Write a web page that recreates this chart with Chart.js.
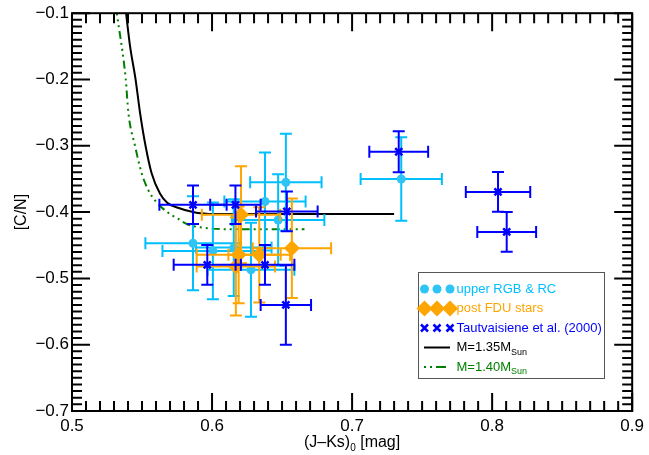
<!DOCTYPE html>
<html>
<head>
<meta charset="utf-8">
<script src="https://cdn.jsdelivr.net/npm/chart.js@4.4.0/dist/chart.umd.min.js"></script>
<style>
  html, body { margin: 0; padding: 0; background: #fff; }
  canvas { display: block; }
</style>
</head>
<body>
<canvas id="cn-chart" width="649" height="455"></canvas>
<script>
// Datos leidos del grafico
// upper RGB & RC
const rgbX = [0.7351, 0.6527, 0.6378, 0.6472, 0.5864, 0.6006, 0.6155, 0.6278];
const rgbY = [-0.350, -0.355, -0.384, -0.412, -0.447, -0.4585, -0.4535, -0.487];
const rgbXerr = [0.029, 0.0255, 0.029, 0.033, 0.034, 0.036, 0.027, 0.031];
const rgbYerr = [0.063, 0.073, 0.074, 0.069, 0.071, 0.073, 0.073, 0.071];

// post FDU stars
const fduX = [0.6207, 0.6190, 0.6337, 0.6570, 0.6170];
const fduY = [-0.404, -0.4645, -0.4645, -0.4544, -0.482];
const fduXerr = [0.028, 0.030, 0.022, 0.028, 0.028];
const fduYerr = [0.073, 0.073, 0.072, 0.075, 0.074];

// Tautvaisiene et al. (2000)
const tautX = [0.5864, 0.6167, 0.6534, 0.5966, 0.6378, 0.6527, 0.7333, 0.8042, 0.8104];
const tautY = [-0.389, -0.389, -0.399, -0.4796, -0.4796, -0.540, -0.309, -0.3695, -0.4299];
const tautXerr = [0.024, 0.018, 0.022, 0.024, 0.021, 0.018, 0.021, 0.023, 0.021];
const tautYerr = [0.029, 0.029, 0.030, 0.030, 0.030, 0.060, 0.031, 0.030, 0.030];

// modelos
const m135X = [0.5386, 0.5414, 0.5454, 0.5485, 0.5525, 0.5568, 0.5628, 0.5680, 0.5773, 0.5850, 0.5915, 0.6050, 0.6300, 0.6800, 0.7300];
const m135Y = [-0.100, -0.149, -0.200, -0.249, -0.300, -0.341, -0.372, -0.386, -0.3945, -0.399, -0.4017, -0.403, -0.403, -0.403, -0.403];
const m140X = [0.5320, 0.5384, 0.5402, 0.5450, 0.5497, 0.5544, 0.5595, 0.5680, 0.5757, 0.5820, 0.5915, 0.6200, 0.6660];
const m140Y = [-0.100, -0.200, -0.249, -0.300, -0.341, -0.3665, -0.3830, -0.400, -0.410, -0.418, -0.423, -0.426, -0.426];

// ejes
const xMin = 0.5, xMax = 0.9, yMin = -0.7, yMax = -0.1;
const majorStep = 0.1, minorStep = 0.01;

const FONT = "'Liberation Sans', Arial, Helvetica, sans-serif";
const CYAN = "#00BFFF";
const ORANGE = "#FFA500";
const BLUE = "#0000FF";
const GREEN = "#008000";

function toPoints(xs, ys) {
  return xs.map((x, i) => ({ x: x, y: ys[i] }));
}

// Barras de error (se dibujan antes de los marcadores de cada serie)
const errorBars = {
  id: "errorBars",
  beforeDatasetDraw(chart, args) {
    const ds = chart.data.datasets[args.index];
    if (!ds.errX) return;
    const ctx = chart.ctx;
    const xs = chart.scales.x, ys = chart.scales.y;
    const cap = 6;
    ctx.save();
    ctx.strokeStyle = ds.barColor;
    ctx.lineWidth = 2;
    ds.data.forEach((p, i) => {
      const px = xs.getPixelForValue(p.x);
      const py = ys.getPixelForValue(p.y);
      const x1 = xs.getPixelForValue(p.x - ds.errX[i]);
      const x2 = xs.getPixelForValue(p.x + ds.errX[i]);
      const y1 = ys.getPixelForValue(p.y + ds.errY[i]);
      const y2 = ys.getPixelForValue(p.y - ds.errY[i]);
      ctx.beginPath();
      ctx.moveTo(x1, py); ctx.lineTo(x2, py);
      ctx.moveTo(x1, py - cap); ctx.lineTo(x1, py + cap);
      ctx.moveTo(x2, py - cap); ctx.lineTo(x2, py + cap);
      ctx.moveTo(px, y1); ctx.lineTo(px, y2);
      ctx.moveTo(px - cap, y1); ctx.lineTo(px + cap, y1);
      ctx.moveTo(px - cap, y2); ctx.lineTo(px + cap, y2);
      ctx.stroke();
    });
    ctx.restore();
  }
};

// Marco con ticks hacia dentro en los cuatro lados
const frameTicks = {
  id: "frameTicks",
  afterDatasetsDraw(chart) {
    const ctx = chart.ctx;
    const a = chart.chartArea;
    const xs = chart.scales.x, ys = chart.scales.y;
    const major = 18, minor = 10;
    ctx.save();
    ctx.strokeStyle = "#000";
    ctx.lineWidth = 2;
    ctx.beginPath();
    const nx = Math.round((xMax - xMin) / minorStep);
    for (let i = 0; i <= nx; i++) {
      const px = xs.getPixelForValue(xMin + i * minorStep);
      const len = i % 10 === 0 ? major : minor;
      ctx.moveTo(px, a.bottom); ctx.lineTo(px, a.bottom - len);
      ctx.moveTo(px, a.top); ctx.lineTo(px, a.top + len);
    }
    const ny = Math.round((yMax - yMin) / minorStep);
    for (let i = 0; i <= ny; i++) {
      const py = ys.getPixelForValue(yMin + i * minorStep);
      const len = i % 10 === 0 ? major : minor;
      ctx.moveTo(a.left, py); ctx.lineTo(a.left + len, py);
      ctx.moveTo(a.right, py); ctx.lineTo(a.right - len, py);
    }
    ctx.stroke();
    ctx.strokeRect(a.left, a.top, a.right - a.left, a.bottom - a.top);
    ctx.restore();
  }
};

// Texto con subindice
function subText(ctx, x, y, main, sub, size, subSize, drop) {
  ctx.font = size + "px " + FONT;
  ctx.fillText(main, x, y);
  const w = ctx.measureText(main).width;
  ctx.font = subSize + "px " + FONT;
  ctx.fillText(sub, x + w, y + drop);
  return w + ctx.measureText(sub).width;
}

// Titulos de ejes y leyenda
const annotations = {
  id: "annotations",
  afterDraw(chart) {
    const ctx = chart.ctx;
    const a = chart.chartArea;
    ctx.save();
    ctx.fillStyle = "#000";
    ctx.textBaseline = "alphabetic";

    // titulo eje x
    const tSize = 16, sSize = 10;
    ctx.font = tSize + "px " + FONT;
    const t1 = "(J\u2013Ks)", t2 = " [mag]";
    const w1 = ctx.measureText(t1).width, w2 = ctx.measureText(t2).width;
    ctx.font = sSize + "px " + FONT;
    const ws = ctx.measureText("0").width;
    const x0 = (a.left + a.right) / 2 - (w1 + ws + w2) / 2;
    const base = 447;
    ctx.font = tSize + "px " + FONT;
    ctx.fillText(t1, x0, base);
    ctx.font = sSize + "px " + FONT;
    ctx.fillText("0", x0 + w1, base + 4);
    ctx.font = tSize + "px " + FONT;
    ctx.fillText(t2, x0 + w1 + ws, base);

    // titulo eje y
    ctx.save();
    ctx.translate(26, (a.top + a.bottom) / 2);
    ctx.rotate(-Math.PI / 2);
    ctx.textAlign = "center";
    ctx.font = tSize + "px " + FONT;
    ctx.fillText("[C/N]", 0, 0);
    ctx.restore();

    // leyenda
    const bx = 418, by = 272, bw = 186, bh = 106;
    ctx.fillStyle = "#fff";
    ctx.fillRect(bx, by, bw, bh);
    ctx.strokeStyle = "#555";
    ctx.lineWidth = 1;
    ctx.strokeRect(bx + 0.5, by + 0.5, bw, bh);

    const symX = [424.5, 437, 450];
    const rows = [289, 308.5, 328, 347.5, 367];
    const tx = 456.5;
    ctx.textBaseline = "middle";

    // upper RGB & RC
    ctx.fillStyle = "#2EC4F5";
    symX.forEach(sx => { ctx.beginPath(); ctx.arc(sx, rows[0], 4.5, 0, 2 * Math.PI); ctx.fill(); });
    ctx.fillStyle = CYAN;
    ctx.font = "13px " + FONT;
    ctx.fillText("upper RGB & RC", tx, rows[0]);

    // post FDU
    ctx.fillStyle = ORANGE;
    symX.forEach(sx => {
      ctx.beginPath();
      ctx.moveTo(sx - 8, rows[1]); ctx.lineTo(sx, rows[1] - 8);
      ctx.lineTo(sx + 8, rows[1]); ctx.lineTo(sx, rows[1] + 8);
      ctx.closePath(); ctx.fill();
    });
    ctx.fillText("post FDU stars", tx, rows[1]);

    // Tautvaisiene
    ctx.strokeStyle = BLUE;
    ctx.lineWidth = 2.5;
    symX.forEach(sx => {
      ctx.beginPath();
      ctx.moveTo(sx - 3.5, rows[2] - 3.5); ctx.lineTo(sx + 3.5, rows[2] + 3.5);
      ctx.moveTo(sx - 3.5, rows[2] + 3.5); ctx.lineTo(sx + 3.5, rows[2] - 3.5);
      ctx.stroke();
    });
    ctx.fillStyle = BLUE;
    ctx.fillText("Tautvaisiene et al. (2000)", tx, rows[2]);

    // M=1.35
    ctx.strokeStyle = "#000";
    ctx.lineWidth = 2;
    ctx.beginPath(); ctx.moveTo(424, rows[3]); ctx.lineTo(450, rows[3]); ctx.stroke();
    ctx.fillStyle = "#000";
    subText(ctx, tx, rows[3], "M=1.35M", "Sun", 13, 9, 5);

    // M=1.40
    ctx.strokeStyle = GREEN;
    ctx.setLineDash([2, 4, 2, 4, 10, 4]);
    ctx.beginPath(); ctx.moveTo(424, rows[4]); ctx.lineTo(450, rows[4]); ctx.stroke();
    ctx.setLineDash([]);
    ctx.fillStyle = GREEN;
    subText(ctx, tx, rows[4], "M=1.40M", "Sun", 13, 9, 5);

    ctx.restore();
  }
};

function initChart() {
  const ctx = document.getElementById("cn-chart").getContext("2d");
  new Chart(ctx, {
    type: "scatter",
    data: {
      datasets: [
        {
          label: "Tautvaisiene et al. (2000)",
          data: toPoints(tautX, tautY),
          errX: tautXerr,
          errY: tautYerr,
          barColor: BLUE,
          pointStyle: "crossRot",
          pointRadius: 5,
          borderColor: BLUE,
          borderWidth: 2.5,
          backgroundColor: BLUE,
        },
        {
          label: "post FDU stars",
          data: toPoints(fduX, fduY),
          errX: fduXerr,
          errY: fduYerr,
          barColor: ORANGE,
          pointStyle: "rectRot",
          pointRadius: 8,
          borderWidth: 0,
          backgroundColor: ORANGE,
        },
        {
          label: "upper RGB & RC",
          data: toPoints(rgbX, rgbY),
          errX: rgbXerr,
          errY: rgbYerr,
          barColor: CYAN,
          pointStyle: "circle",
          pointRadius: 4.5,
          borderWidth: 0,
          backgroundColor: "#2EC4F5",
        },
        {
          label: "M=1.40",
          data: toPoints(m140X, m140Y),
          showLine: true,
          pointRadius: 0,
          borderColor: GREEN,
          borderWidth: 2,
          borderDash: [2, 4, 2, 4, 2, 4, 8, 4],
          cubicInterpolationMode: "monotone",
        },
        {
          label: "M=1.35",
          data: toPoints(m135X, m135Y),
          showLine: true,
          pointRadius: 0,
          borderColor: "#000",
          borderWidth: 2,
          cubicInterpolationMode: "monotone",
        },
      ],
    },
    options: {
      responsive: false,
      animation: false,
      devicePixelRatio: 1,
      layout: { padding: { top: 13, right: 14, left: 0, bottom: 0 } },
      plugins: {
        legend: { display: false },
        tooltip: { enabled: false },
      },
      scales: {
        x: {
          type: "linear",
          min: xMin,
          max: xMax,
          grid: { display: false, drawTicks: false },
          border: { display: false },
          ticks: {
            stepSize: majorStep,
            autoSkip: false,
            maxRotation: 0,
            padding: 5,
            color: "#000",
            font: { family: FONT, size: 17 },
            callback: (v) => v.toFixed(1),
          },
          afterFit: (s) => { s.height = 44; },
        },
        y: {
          type: "linear",
          min: yMin,
          max: yMax,
          grid: { display: false, drawTicks: false },
          border: { display: false },
          ticks: {
            stepSize: majorStep,
            autoSkip: false,
            padding: 3,
            color: "#000",
            font: { family: FONT, size: 17 },
            callback: (v) => v.toFixed(1).replace("-", "\u2212"),
          },
          afterFit: (s) => { s.width = 72; },
        },
      },
    },
    plugins: [errorBars, frameTicks, annotations],
  });
}

window.onload = function () {
  initChart();
};
</script>
</body>
</html>
